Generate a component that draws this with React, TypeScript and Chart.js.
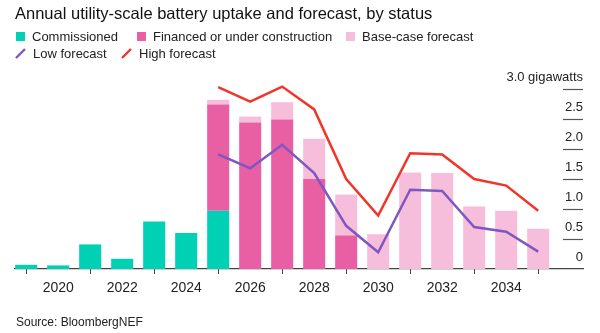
import React, { useEffect, useRef } from "react";
import { Chart, registerables } from "chart.js";

Chart.register(...registerables);

const years = [2019, 2020, 2021, 2022, 2023, 2024, 2025, 2026, 2027, 2028, 2029, 2030, 2031, 2032, 2033, 2034, 2035];
const commissioned = [0.07, 0.06, 0.41, 0.17, 0.79, 0.6, 0.97, 0, 0, 0, 0, 0, 0, 0, 0, 0, 0];
const financed = [0, 0, 0, 0, 0, 0, 1.77, 2.44, 2.49, 1.5, 0.56, 0, 0, 0, 0, 0, 0];
const baseCase = [0, 0, 0, 0, 0, 0, 0.08, 0.1, 0.29, 0.67, 0.68, 0.58, 1.61, 1.6, 1.04, 0.97, 0.67];
const forecastYears = [2025, 2026, 2027, 2028, 2029, 2030, 2031, 2032, 2033, 2034, 2035];
const lowForecast = [1.91, 1.68, 2.07, 1.6, 0.72, 0.28, 1.32, 1.3, 0.7, 0.62, 0.29];
const highForecast = [3.03, 2.79, 3.04, 2.66, 1.5, 0.89, 1.93, 1.91, 1.5, 1.39, 0.97];
const xTicks = [2020, 2022, 2024, 2026, 2028, 2030, 2032, 2034];
const yTicks = [0, 0.5, 1.0, 1.5, 2.0, 2.5, 3.0];
const yTickLabels = ["0", "0.5", "1.0", "1.5", "2.0", "2.5", "3.0 gigawatts"];

const TEAL = "#00D1B4";
const MAGENTA = "#E95FA4";
const LIGHTPINK = "#F7BEDC";
const RED = "#F0352B";
const PURPLE = "#7E57C2";
const FONT = "'Liberation Sans', Arial, Helvetica, sans-serif";

const yLabelsPlugin = {
  id: "yLabels",
  afterDraw(chart: any) {
    const { ctx, chartArea, scales } = chart;
    const y = scales.y;
    ctx.save();
    ctx.font = `13px ${FONT}`;
    ctx.fillStyle = "#222";
    ctx.textAlign = "right";
    ctx.textBaseline = "middle";
    yTicks.forEach((v, i) => {
      const py = Math.round(y.getPixelForValue(v)) + 0.5;
      if (v !== 0) {
        ctx.strokeStyle = "#555";
        ctx.lineWidth = 1.2;
        ctx.beginPath();
        ctx.moveTo(chartArea.right - 20, py);
        ctx.lineTo(chartArea.right, py);
        ctx.stroke();
      }
      ctx.fillText(yTickLabels[i], chartArea.right, py - 12);
    });
    ctx.restore();
  },
};

function LegendSquare({ color }: { color: string }) {
  return <span style={{ display: "inline-block", width: 9, height: 9, background: color, marginRight: 7 }} />;
}

function LegendLine({ color }: { color: string }) {
  return (
    <svg width="11" height="11" style={{ marginRight: 7 }}>
      <line x1="1" y1="10" x2="10" y2="1" stroke={color} strokeWidth="2.4" />
    </svg>
  );
}

export default function App() {
  const ref = useRef<HTMLCanvasElement | null>(null);
  useEffect(() => {
    if (!ref.current) return;
    const chart = new Chart(ref.current, {
      type: "bar",
      data: {
        datasets: [
          {
            type: "line",
            label: "High forecast",
            data: forecastYears.map((x, i) => ({ x, y: highForecast[i] })),
            borderColor: RED,
            backgroundColor: RED,
            borderWidth: 2.5,
            pointRadius: 0,
            stack: "high",
            order: 0,
            clip: false,
          } as any,
          {
            type: "line",
            label: "Low forecast",
            data: forecastYears.map((x, i) => ({ x, y: lowForecast[i] })),
            borderColor: PURPLE,
            backgroundColor: PURPLE,
            borderWidth: 2.5,
            pointRadius: 0,
            stack: "low",
            order: 0,
            clip: false,
          } as any,
          {
            label: "Commissioned",
            data: years.map((x, i) => ({ x, y: commissioned[i] })),
            backgroundColor: TEAL,
            stack: "bars",
            order: 1,
          },
          {
            label: "Financed or under construction",
            data: years.map((x, i) => ({ x, y: financed[i] })),
            backgroundColor: MAGENTA,
            stack: "bars",
            order: 1,
          },
          {
            label: "Base-case forecast",
            data: years.map((x, i) => ({ x, y: baseCase[i] })),
            backgroundColor: LIGHTPINK,
            stack: "bars",
            order: 1,
          },
        ],
      },
      options: {
        animation: false,
        responsive: false,
        maintainAspectRatio: false,
        barPercentage: 0.69,
        categoryPercentage: 1,
        layout: { padding: { left: 15, right: 17, top: 89, bottom: 0 } },
        plugins: { legend: { display: false }, tooltip: { enabled: false }, title: { display: false } },
        scales: {
          x: {
            type: "linear",
            min: 2018.65,
            max: 2036.4,
            offset: false,
            afterBuildTicks: (s: any) => {
              s.ticks = xTicks.map((v) => ({ value: v }));
            },
            afterFit: (s: any) => {
              s.height = 64;
            },
            grid: { display: true, drawOnChartArea: false, drawTicks: true, tickLength: 5, color: "#444", lineWidth: 1 },
            border: { display: true, color: "#444", width: 1.2 },
            ticks: {
              color: "#222",
              font: { family: FONT, size: 14 },
              padding: 6,
              maxRotation: 0,
              autoSkip: false,
              callback: (v: any) => String(v),
            },
          },
          y: {
            display: false,
            stacked: true,
            min: 0,
            max: 3.0,
          },
        },
      } as any,
      plugins: [yLabelsPlugin],
    });
    return () => chart.destroy();
  }, []);

  const text: React.CSSProperties = { position: "absolute", fontFamily: FONT, color: "#222", whiteSpace: "nowrap" };
  const item: React.CSSProperties = { ...text, fontSize: 13, lineHeight: "15px", display: "flex", alignItems: "center" };

  return (
    <div style={{ position: "absolute", left: 0, top: 0, width: 600, height: 333, background: "#fff", overflow: "hidden" }}>
      <canvas ref={ref} width={600} height={333} style={{ position: "absolute", left: 0, top: 0, width: 600, height: 333 }} />
      <div style={{ ...text, left: 15, top: 3, fontSize: 16.5, lineHeight: "20px", color: "#111" }}>
        Annual utility-scale battery uptake and forecast, by status
      </div>
      <div style={{ ...item, left: 16, top: 29 }}>
        <LegendSquare color={TEAL} />Commissioned
      </div>
      <div style={{ ...item, left: 137, top: 29 }}>
        <LegendSquare color={MAGENTA} />Financed or under construction
      </div>
      <div style={{ ...item, left: 346, top: 29 }}>
        <LegendSquare color={LIGHTPINK} />Base-case forecast
      </div>
      <div style={{ ...item, left: 15, top: 46 }}>
        <LegendLine color={PURPLE} />Low forecast
      </div>
      <div style={{ ...item, left: 121, top: 46 }}>
        <LegendLine color={RED} />High forecast
      </div>
      <div
        style={{
          ...text,
          left: 16,
          top: 315,
          fontSize: 12,
          lineHeight: "15px",
          fontFamily: "'Liberation Sans Narrow', 'Liberation Sans', Arial, sans-serif",
        }}
      >
        Source: BloombergNEF
      </div>
    </div>
  );
}
